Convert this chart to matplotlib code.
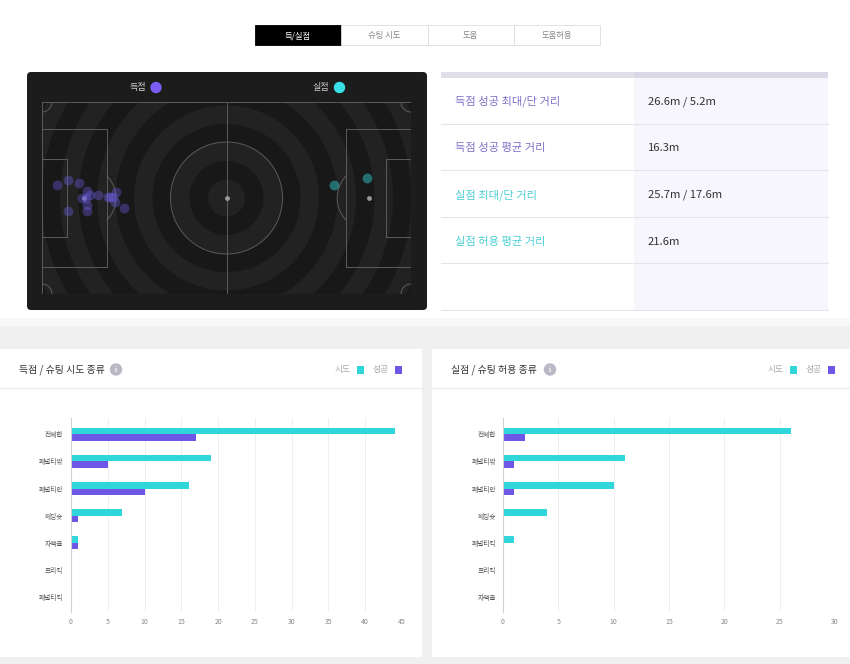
import numpy as np
import matplotlib.pyplot as plt
from matplotlib.patches import Rectangle, FancyBboxPatch, Circle

plt.rcParams['font.family'] = ['Noto Sans CJK KR', 'DejaVu Sans']

W, H = 850, 664
CYAN = '#30d6da'
PURPLE = '#6e56e6'

# data
tabs = ['득/실점', '슈팅 시도', '도움', '도움허용']

stat_labels = ['득점 성공 최대/단 거리', '득점 성공 평균 거리', '실점 최대/단 거리', '실점 허용 평균 거리']
stat_values = ['26.6m / 5.2m', '16.3m', '25.7m / 17.6m', '21.6m']

# shot locations on the pitch, metres (length 105, width 68)
goal_x = [4.4, 7.3, 10.6, 12.8, 11.5, 12.6, 13.7, 15.8, 18.9, 20.3, 19.4, 21.0, 20.8, 23.2, 7.3, 12.8, 12.8]
goal_y = [29.4, 27.6, 28.8, 31.4, 34.1, 34.0, 32.9, 32.9, 33.7, 33.7, 33.5, 31.8, 35.3, 37.6, 38.5, 36.5, 38.5]
conceded_x = [83.1, 92.4]
conceded_y = [29.4, 26.8]

for_types = ['전체합', '페널티밖', '페널티안', '헤딩슛', '자책골', '프리킥', '페널티킥']
for_attempts = [44, 19, 16, 7, 1, 0, 0]
for_success = [17, 5, 10, 1, 1, 0, 0]

against_types = ['전체합', '페널티밖', '페널티안', '헤딩슛', '페널티킥', '프리킥', '자책골']
against_attempts = [26, 11, 10, 4, 1, 0, 0]
against_success = [2, 1, 1, 0, 0, 0, 0]

fig = plt.figure(figsize=(8.5, 6.64), dpi=100)


def px_axes(x0, y0, x1, y1):
    return fig.add_axes([x0 / W, 1 - y1 / H, (x1 - x0) / W, (y1 - y0) / H])


# background canvas in pixel units
bg = fig.add_axes([0, 0, 1, 1])
bg.set_xlim(0, W)
bg.set_ylim(H, 0)
bg.axis('off')
bg.add_patch(Rectangle((0, 318), W, H - 318, color='#f0f0f0', lw=0))
bg.add_patch(Rectangle((0, 318), W, 8, color='#f8f8f8', lw=0))
bg.add_patch(Rectangle((0, 349), 422, 308, color='white', lw=0))
bg.add_patch(Rectangle((432, 349), 418, 308, color='white', lw=0))

# tabs
for i, t in enumerate(tabs):
    x0 = 255 + i * 86.3
    active = i == 0
    bg.add_patch(Rectangle((x0, 25), 86.3, 20, facecolor='black' if active else 'white',
                           edgecolor='black' if active else '#dddddd', lw=0.6))
    bg.text(x0 + 43, 35.5, t, ha='center', va='center', fontsize=6,
            color='white' if active else '#888888')

# pitch panel
bg.add_patch(FancyBboxPatch((27, 72), 400, 238, boxstyle='round,pad=0,rounding_size=4',
                            facecolor='#1c1c1c', edgecolor='none'))
bg.text(146, 87.5, '득점', ha='right', va='center', fontsize=6.5, color='#d0d0d0')
bg.add_patch(Circle((156, 87.5), 5, color='#7a5cf0'))
bg.text(329, 87.5, '실점', ha='right', va='center', fontsize=6.5, color='#d0d0d0')
bg.add_patch(Circle((339.5, 87.5), 5, color='#3adfe6'))

# stats table
bg.add_patch(Rectangle((441, 72), 387, 6, color='#dfdfe7', lw=0))
bg.add_patch(Rectangle((634, 72), 194, 6, color='#d9d8e6', lw=0))
bg.add_patch(Rectangle((634, 78), 194, 232, color='#f7f6fd', lw=0))
for k in range(5):
    yl = 123.5 + k * 46.6
    bg.plot([441, 828], [yl, yl], color='#e4e4ea', lw=0.8)
for k, (lab, val) in enumerate(zip(stat_labels, stat_values)):
    yt = 101.5 + k * 46.8
    bg.text(455, yt, lab, va='center', fontsize=8.1,
            color='#7e72c8' if k < 2 else '#4ccfd4')
    bg.text(648, yt, val, va='center', fontsize=8.1, color='#333333')

# card headers
for x_title, title, x_icon, x_leg in [(19, '득점 / 슈팅 시도 종류', 116, 335),
                                     (451, '실점 / 슈팅 허용 종류', 550, 768)]:
    bg.text(x_title, 369.5, title, va='center', fontsize=7.1, color='#333333')
    bg.add_patch(Circle((x_icon, 369.5), 5.5, color='#b9b9c6'))
    bg.text(x_icon, 369.8, 'i', ha='center', va='center', fontsize=5, color='white',
            style='italic', fontweight='bold')
    bg.text(x_leg, 369.5, '시도', va='center', fontsize=6.3, color='#aaaaaa')
    bg.add_patch(Rectangle((x_leg + 22, 366), 7.5, 7.5, color=CYAN, lw=0))
    bg.text(x_leg + 38, 369.5, '성공', va='center', fontsize=6.3, color='#aaaaaa')
    bg.add_patch(Rectangle((x_leg + 60, 366), 7.5, 7.5, color=PURPLE, lw=0))
bg.plot([0, 422], [388, 388], color='#eeeeee', lw=1)
bg.plot([432, 850], [388, 388], color='#eeeeee', lw=1)

# pitch
pitch = px_axes(42, 102, 411, 294)
pitch.set_xlim(0, 105)
pitch.set_ylim(68, 0)
pitch.axis('off')
sx = 369 / 105
sy = 192 / 68


def circle_pts(cx, cy, r, t0=0, t1=360):
    t = np.radians(np.linspace(t0, t1, 200))
    return cx + r * np.cos(t) / sx, cy + r * np.sin(t) / sy


pitch.add_patch(Rectangle((0, 0), 105, 68, color='#1c1c1c', lw=0))
ring_colors = ['#181818', '#222222']
for k in range(12, 0, -1):
    xs, ys = circle_pts(52.5, 34, 18.5 * k)
    pitch.fill(xs, ys, color=ring_colors[k % 2], lw=0)

lc = '#5c5c5c'
lw = 0.7
pitch.plot([0, 105, 105, 0, 0], [0, 0, 68, 68, 0], color=lc, lw=lw)
pitch.plot([52.5, 52.5], [0, 68], color=lc, lw=lw)
for side in [0, 1]:
    f = (lambda v: v) if side == 0 else (lambda v: 105 - v)
    pitch.plot([f(0), f(18.5), f(18.5), f(0)], [9.6, 9.6, 58.4, 58.4], color=lc, lw=lw)
    pitch.plot([f(0), f(7.1), f(7.1), f(0)], [20.3, 20.3, 47.7, 47.7], color=lc, lw=lw)
    if side == 0:
        xs, ys = circle_pts(12, 34, 31.7, -44, 44)
    else:
        xs, ys = circle_pts(93, 34, 31.7, 136, 224)
    pitch.plot(xs, ys, color=lc, lw=lw)
xs, ys = circle_pts(52.5, 34, 56)
pitch.plot(xs, ys, color=lc, lw=lw)
for cx, cy, a0 in [(0, 0, 0), (105, 0, 90), (105, 68, 180), (0, 68, 270)]:
    xs, ys = circle_pts(cx, cy, 10, a0, a0 + 90)
    pitch.plot(xs, ys, color=lc, lw=lw)
pitch.scatter([12, 52.5, 93], [34, 34, 34], s=6, color='#9a9a9a', zorder=3)
pitch.scatter(goal_x, goal_y, s=50, color='#6a5ad8', alpha=0.4, lw=0, zorder=4)
pitch.scatter(conceded_x, conceded_y, s=50, color='#2fa9a8', alpha=0.6, lw=0, zorder=4)


def bar_panel(x0, x1, types, attempts, success, xmax, pad):
    ax = px_axes(x0, 418, x1, 612)
    y = np.arange(len(types))
    ax.barh(y - 0.123, attempts, height=0.246, color=CYAN, lw=0)
    ax.barh(y + 0.123, success, height=0.246, color=PURPLE, lw=0)
    ax.set_xlim(0, xmax)
    ax.set_ylim(6.55, -0.6)
    ax.set_xticks(range(0, xmax + 1, 5))
    ax.set_yticks(y)
    ax.set_yticklabels(types)
    ax.set_facecolor('none')
    for s in ['top', 'right', 'bottom']:
        ax.spines[s].set_visible(False)
    ax.spines['left'].set_color('#d2d2d2')
    ax.spines['left'].set_linewidth(0.8)
    ax.grid(axis='x', color='#ededed', lw=0.6)
    ax.set_axisbelow(True)
    ax.tick_params(axis='x', length=0, labelsize=5, labelcolor='#888888', pad=4)
    ax.tick_params(axis='y', length=0, labelsize=4.8, labelcolor='#555555', pad=pad)
    return ax


bar_panel(71, 402, for_types, for_attempts, for_success, 45, 5.5)
bar_panel(503, 835, against_types, against_attempts, against_success, 30, 5)

fig.savefig('out.png', dpi=100)
